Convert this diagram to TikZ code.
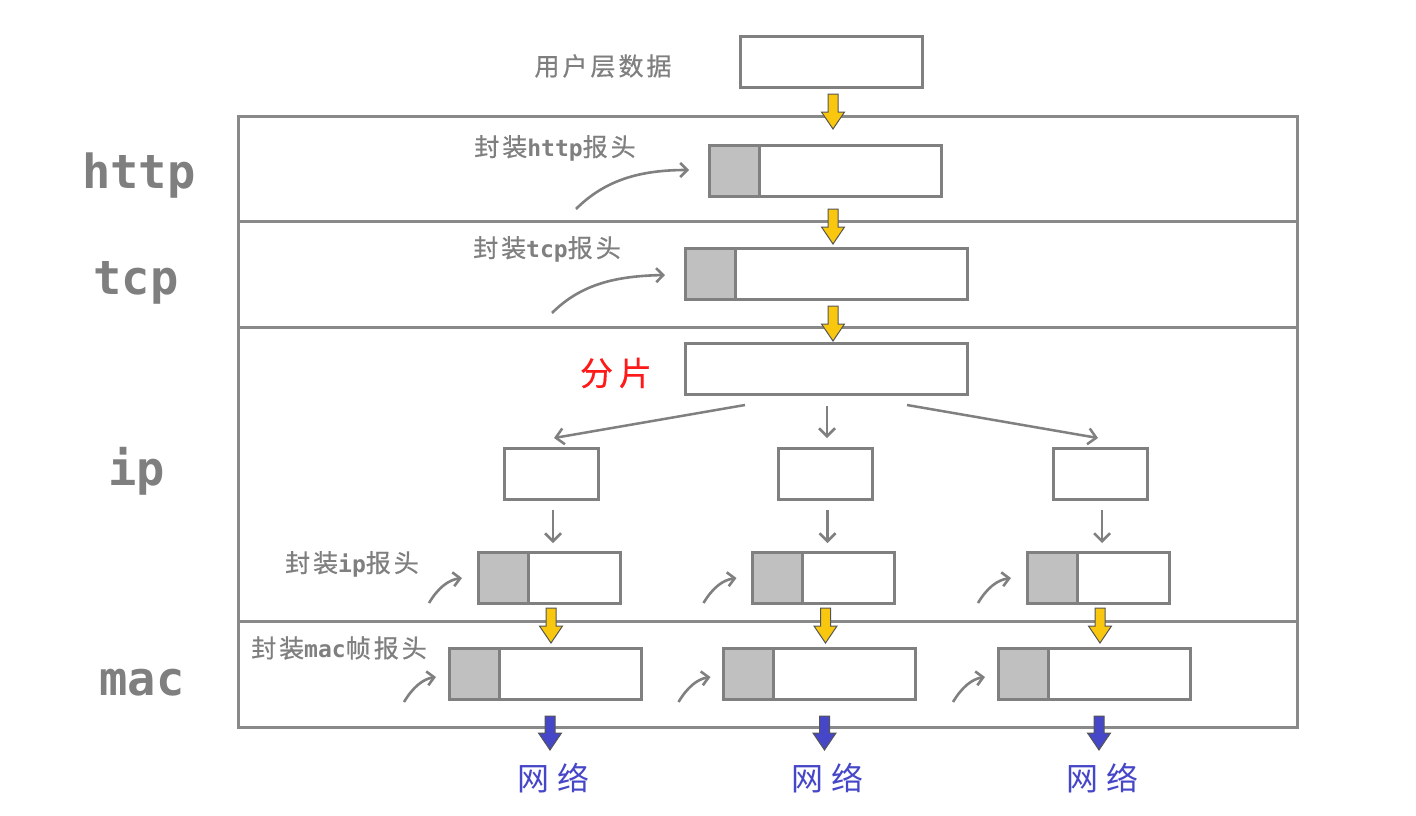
\documentclass[tikz,border=0pt]{standalone}
\usepackage{fontspec}
\usetikzlibrary{arrows.meta}
\newfontfamily\cjk{Noto Sans CJK SC}
\newfontfamily\monob{DejaVu Sans Mono}
\newcommand\latn[1]{{\monob\bfseries\fontsize{23}{28}\selectfont #1}}
\definecolor{boxgray}{HTML}{808080}
\definecolor{hdrgray}{HTML}{C0C0C0}
\definecolor{txtgray}{HTML}{7F7F7F}
\definecolor{framegray}{HTML}{898989}
\definecolor{arrgray}{HTML}{808080}
\definecolor{ayellow}{HTML}{F9C80E}
\definecolor{ablue}{HTML}{4646C8}
\definecolor{outl}{HTML}{555555}
\definecolor{fragred}{HTML}{FF1A1A}
\tikzset{
  box/.style={draw=boxgray, line width=3pt, fill=white, inner sep=0pt, minimum height=51pt},
  hdr/.style={box, fill=hdrgray, minimum width=50pt, anchor=west},
  layer/.style={text=txtgray, font=\monob\bfseries\fontsize{47}{50}\selectfont, inner sep=0pt, anchor=base},
  lab/.style={text=txtgray, font=\cjk\fontsize{25}{28}\addfontfeature{LetterSpace=12,FakeBold=0.6}, inner sep=0pt},
  net/.style={text=ablue, font=\cjk\fontsize{32}{36}\addfontfeature{LetterSpace=25}, inner sep=0pt},
  frag/.style={text=fragred, font=\cjk\fontsize{33}{36}\addfontfeature{LetterSpace=18,FakeBold=0.4}, inner sep=0pt},
  frame/.style={draw=framegray, line width=3pt},
  thinarr/.style={draw=arrgray, line width=2.5pt, -{Straight Barb[length=8pt,width=16pt]}},
  curvy/.style={draw=arrgray, line width=2.6pt, -{Straight Barb[length=7pt,width=14pt]}},
  yarrow/.pic={\draw[draw=outl, line width=1pt, fill=ayellow] (-5,0) -- (5,0) -- (5,18) -- (11.5,18) -- (0,35) -- (-11.5,18) -- (-5,18) -- cycle;},
  barrow/.pic={\draw[draw=outl, line width=1pt, fill=ablue] (-5,0) -- (5,0) -- (5,17) -- (11.5,17) -- (0,34) -- (-11.5,17) -- (-5,17) -- cycle;}
}
\begin{document}
\begin{tikzpicture}[x=1pt,y=-1pt]
\fill[white] (0,0) rectangle (1416,815);
\useasboundingbox (0,0) rectangle (1416,815);
% frame
\draw[frame] (238,116) rectangle (1297,727);
\draw[frame] (238,221) -- (1297,221);
\draw[frame] (238,327) -- (1297,327);
\draw[frame] (238,621) -- (1297,621);
% layer labels
\node[layer] (lhttp) at (139,188) {http};
\node[layer] (ltcp) at (136,294) {tcp};
\node[layer] (lip) at (137,485) {ip};
\node[layer] (lmac) at (142,695) {mac};
% user data
\node[box, minimum width=182pt] (user) at (831,61.5) {};
\node[lab] (userl) at (603,66) {用户层数据};
% http
\node[box, minimum width=232pt] (hb) at (825,171) {};
\node[hdr] (hh) at (hb.west) {};
\node[lab] (hl) at (555,148) {封装\latn{http}报头};
\coordinate (hc) at (576,209);
\coordinate (hce) at (689,170);
\draw[curvy] (hc) .. controls (605,180) and (640,170) .. (hce);
% tcp
\node[box, minimum width=282pt] (tb) at (826,273.5) {};
\node[hdr] (th) at (tb.west) {};
\node[lab] (tl) at (547,249) {封装\latn{tcp}报头};
\coordinate (tc) at (552,313);
\coordinate (tce) at (665,275);
\draw[curvy] (tc) .. controls (581,284) and (616,276) .. (tce);
% fragment
\node[box, minimum width=282pt] (fb) at (826,368.5) {};
\node[frag] (fl) at (616,373) {分片};
\coordinate (f1a) at (745,405); \coordinate (f1b) at (554,438);
\coordinate (f2a) at (827,406); \coordinate (f2b) at (827,438);
\coordinate (f3a) at (907,405); \coordinate (f3b) at (1098,438);
\draw[thinarr] (f1a) -- (f1b);
\draw[thinarr] (f2a) -- (f2b);
\draw[thinarr] (f3a) -- (f3b);
\node[lab] (ipl) at (352,564) {封装\latn{ip}报头};
\node[lab] (macl) at (339,648) {封装\latn{mac}帧报头};
\foreach \i/\dx in {1/0,2/274.5,3/549} {
  \node[box, minimum width=94pt] (sm\i) at (551+\dx,473.5) {};
  \node[box, minimum width=142pt] (ip\i) at (549+\dx,577.5) {};
  \node[hdr] (iph\i) at (ip\i.west) {};
  \node[box, minimum width=192pt] (mac\i) at (545+\dx,673.5) {};
  \node[hdr] (mach\i) at (mac\i.west) {};
  \draw[thinarr] (553+\dx,510) -- (553+\dx,543);
  \draw[curvy] (429+\dx,603) .. controls (438+\dx,588) and (448+\dx,580) .. (462+\dx,578);
  \draw[curvy] (404+\dx,702) .. controls (413+\dx,687) and (423+\dx,679) .. (436+\dx,677);
  \pic (ym\i) at (551+\dx,608) {yarrow};
  \pic (bm\i) at (550+\dx,716) {barrow};
  \node[net] (net\i) at (553+\dx,778) {网络};
}
% top yellow arrows
\pic (y1) at (833,94) {yarrow};
\pic (y2) at (833,209) {yarrow};
\pic (y3) at (833,306) {yarrow};
\end{tikzpicture}
\end{document}
